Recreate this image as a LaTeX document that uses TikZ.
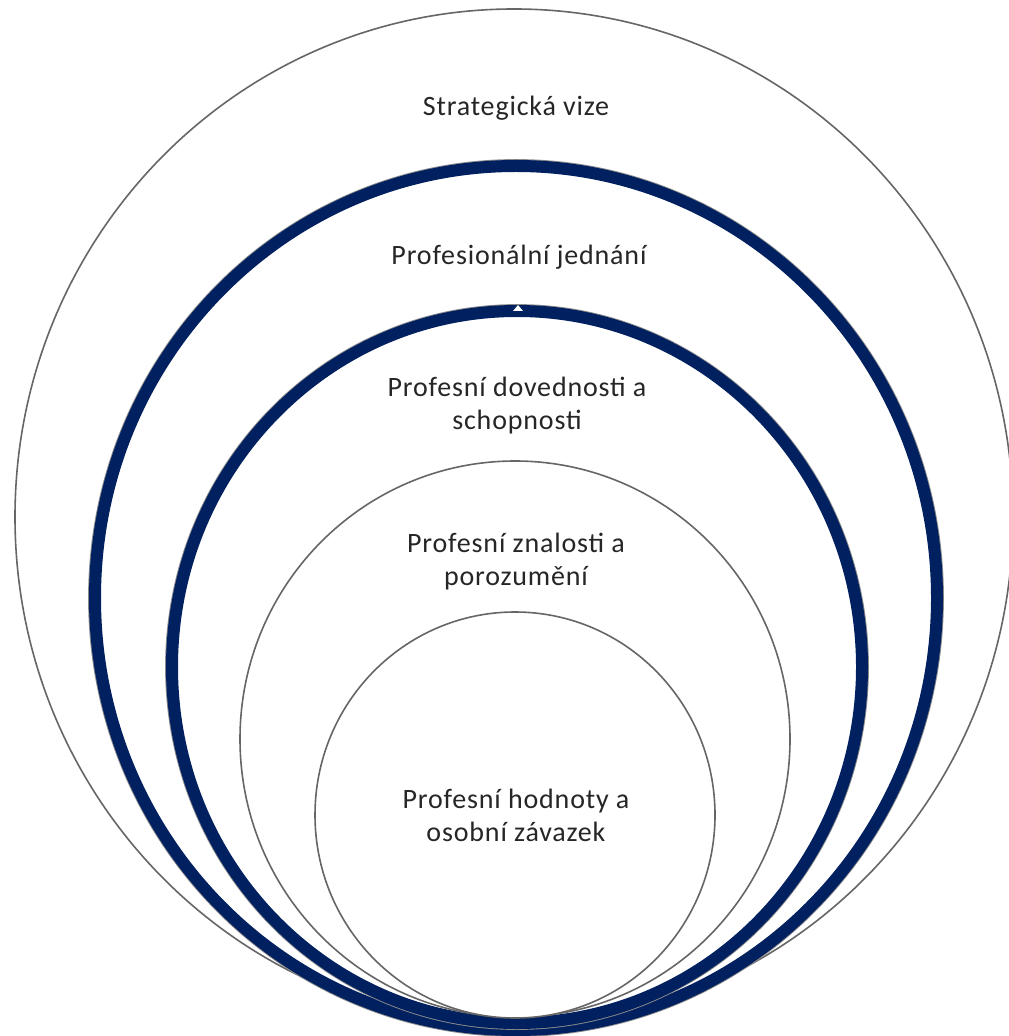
\documentclass[tikz,border=0pt]{standalone}
\usepackage{fontspec}
\setmainfont{Carlito}
\newfontfamily\lblfont[LetterSpace=3]{Carlito}
\definecolor{navy}{RGB}{0,32,96}

\begin{document}
\begin{tikzpicture}[x=0.5pt, y=-0.5pt,
	ring/.style={draw=black!60, line width=0.8pt, fill=white},
	shade/.style={draw=black!45, line width=0.9pt},
	bluering/.style={draw=navy, line width=6pt, fill=white},
	lbl/.style={font=\lblfont\fontsize{14}{16.5}\selectfont, text=black!85, align=center}]
	\useasboundingbox (0,0) rectangle (1008,1036);
	% outer level
	\draw[ring] (514,517) ellipse [x radius=499, y radius=508];
	% two thick levels, each with a thin shadow edge
	\draw[shade] (516,598) ellipse [x radius=427, y radius=438];
	\draw[bluering] (516,598) ellipse [x radius=421, y radius=432];
	\draw[shade] (517,667) ellipse [x radius=351, y radius=362];
	\draw[bluering] (517,667) ellipse [x radius=345, y radius=356];
	\fill[white] (513,311) -- (518,305) -- (523,311) -- cycle;
	% inner levels
	\draw[ring] (515,739) ellipse [x radius=275, y radius=278];
	\draw[ring] (515,815) ellipse [x radius=200, y radius=203];

	\node[lbl] (vize) at (516,108) {Strategická vize};
	\node[lbl] (jednani) at (519,257) {Profesionální jednání};
	\node[lbl] (dovednosti) at (517,406) {Profesní dovednosti a\\schopnosti};
	\node[lbl] (znalosti) at (516,562) {Profesní znalosti a\\porozumění};
	\node[lbl] (hodnoty) at (516,815) {Profesní hodnoty a\\osobní závazek};
\end{tikzpicture}
\end{document}
